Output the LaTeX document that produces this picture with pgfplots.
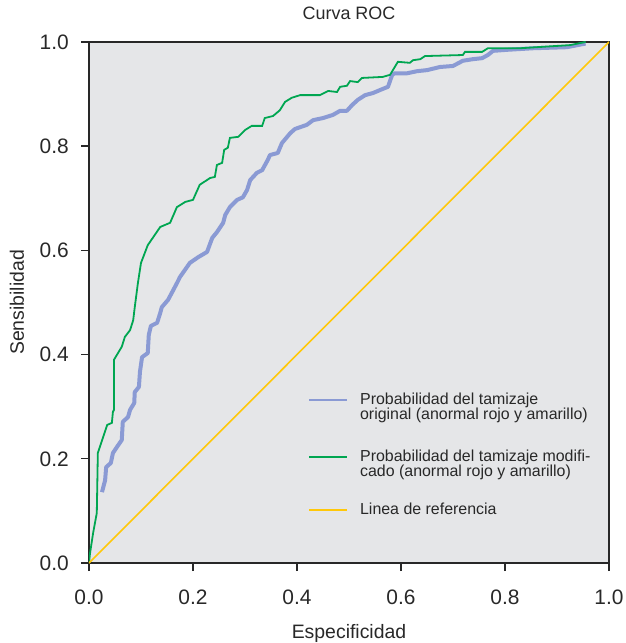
\documentclass[border=0pt]{standalone}
\usepackage{fontspec}
\setmainfont{Liberation Sans}
\usepackage{pgfplots}
\pgfplotsset{compat=1.18}

\definecolor{bgGray}{RGB}{229,230,232}
\definecolor{axGray}{RGB}{40,40,40}
\definecolor{rocBlue}{RGB}{138,154,212}
\definecolor{rocGreen}{RGB}{0,166,81}
\definecolor{rocYellow}{RGB}{255,200,10}

\begin{document}
\begin{tikzpicture}
\begin{axis}[
    scale only axis,
    width=520bp, height=521bp,
    xmin=0, xmax=1, ymin=0, ymax=1,
    axis background/.style={fill=bgGray},
    axis line style={axGray, line width=1.6bp},
    every tick/.style={axGray, line width=1.4bp},
    tick align=outside,
    major tick length=8bp,
    xtick={0,0.2,...,1.0}, ytick={0,0.2,...,1.0},
    xtick pos=bottom, ytick pos=left,
    /pgf/number format/assume math mode=true,
    /pgf/number format/.cd, fixed, fixed zerofill, precision=1, /pgfplots/.cd,
    ticklabel style={font=\fontsize{21}{24}\selectfont, text=axGray},
    yticklabel style={inner sep=0pt, xshift=-12bp},
    xticklabel style={inner sep=0pt, yshift=-19bp},
    title={Curva ROC},
    title style={at={(axis description cs:0.5,1.0326)}, anchor=base,
        font=\fontsize{18}{21}\selectfont, text=axGray, inner sep=0pt},
    xlabel={Especificidad},
    xlabel style={at={(axis description cs:0.5,-0.144)}, anchor=base,
        font=\fontsize{19.5}{22}\selectfont, text=axGray, inner sep=0pt},
    ylabel={Sensibilidad},
    ylabel style={at={(axis description cs:-0.1250,0.5)}, anchor=base,
        font=\fontsize{19.5}{22}\selectfont, text=axGray, inner sep=0pt},
    legend image code/.code={\draw[#1] (0bp,0bp) -- (38bp,0bp);},
    legend image post style={line width=2.2bp},
    legend style={at={(axis cs:0.421,0.327)}, anchor=north west,
        draw=none, fill=none, inner sep=0pt, outer sep=0pt,
        column sep=12bp, row sep=0pt,
        font=\fontsize{16}{15}\selectfont, text=axGray,
        nodes={inner sep=0pt, text height=11.5bp, text depth=3.5bp}},
    legend cell align=left,
]

% curva del tamizaje original
\addplot[rocBlue, line width=4bp, line join=round] coordinates {
(0.025,0.136)(0.031,0.159)(0.033,0.184)(0.042,0.192)(0.046,0.211)(0.054,0.223)
(0.063,0.236)(0.065,0.271)(0.075,0.280)(0.079,0.294)(0.087,0.307)(0.088,0.328)
(0.096,0.338)(0.098,0.367)(0.102,0.395)(0.113,0.403)(0.115,0.438)(0.119,0.455)
(0.131,0.461)(0.137,0.480)(0.140,0.491)(0.152,0.505)(0.160,0.520)(0.169,0.537)
(0.175,0.549)(0.194,0.576)(0.210,0.587)(0.227,0.597)(0.237,0.624)(0.246,0.635)
(0.258,0.653)(0.262,0.668)(0.271,0.683)(0.285,0.697)(0.296,0.702)(0.304,0.716)
(0.310,0.735)(0.323,0.749)(0.333,0.754)(0.344,0.774)(0.348,0.783)(0.363,0.787)
(0.371,0.806)(0.387,0.825)(0.396,0.833)(0.419,0.841)(0.431,0.850)(0.450,0.854)
(0.469,0.860)(0.483,0.868)(0.496,0.868)(0.506,0.879)(0.517,0.889)(0.531,0.898)
(0.546,0.902)(0.565,0.910)(0.575,0.914)(0.583,0.937)(0.588,0.940)(0.612,0.940)
(0.631,0.944)(0.650,0.946)(0.675,0.952)(0.700,0.954)(0.719,0.964)(0.738,0.967)
(0.756,0.969)(0.767,0.975)(0.777,0.983)(0.804,0.985)(0.854,0.988)(0.919,0.990)
(0.955,0.997)
};
\addlegendentry{Probabilidad del tamizaje}
\addlegendimage{empty legend}
\addlegendentry{original (anormal rojo y amarillo)}
\addlegendimage{empty legend}
\addlegendentry[text height=23.5bp]{}

% curva del tamizaje modificado
\addplot[rocGreen, line width=1.8bp] coordinates {
(0,0)(0.002,0.019)(0.008,0.058)(0.015,0.096)(0.017,0.211)(0.035,0.265)
(0.044,0.269)(0.046,0.290)(0.048,0.294)(0.048,0.390)(0.063,0.415)(0.069,0.434)
(0.079,0.447)(0.085,0.466)(0.088,0.491)(0.094,0.537)(0.100,0.576)(0.113,0.610)
(0.137,0.645)(0.156,0.653)(0.169,0.683)(0.185,0.693)(0.200,0.697)(0.204,0.706)
(0.213,0.726)(0.233,0.739)(0.242,0.741)(0.246,0.764)(0.256,0.768)(0.260,0.793)
(0.267,0.797)(0.271,0.816)(0.287,0.818)(0.300,0.831)(0.313,0.839)(0.333,0.839)
(0.338,0.854)(0.354,0.858)(0.367,0.869)(0.377,0.885)(0.390,0.893)(0.406,0.898)
(0.444,0.898)(0.460,0.906)(0.477,0.904)(0.483,0.914)(0.496,0.916)(0.502,0.925)
(0.517,0.923)(0.525,0.931)(0.565,0.933)(0.579,0.937)(0.594,0.962)(0.617,0.960)
(0.623,0.965)(0.637,0.967)(0.646,0.973)(0.719,0.975)(0.723,0.981)(0.756,0.981)
(0.767,0.988)(0.829,0.988)(0.892,0.992)(0.925,0.994)(0.955,1.0)
};
\addlegendentry{Probabilidad del tamizaje modifi-}
\addlegendimage{empty legend}
\addlegendentry{cado (anormal rojo y amarillo)}
\addlegendimage{empty legend}
\addlegendentry[text height=19.5bp]{}

% linea de referencia
\addplot[rocYellow, line width=1.6bp] coordinates {(0,0)(1,1)};
\addlegendentry{Linea de referencia}
\end{axis}
\pgfresetboundingbox
\path ([shift={(-89bp,-80bp)}]current axis.south west) rectangle ([shift={(17bp,42bp)}]current axis.north east);
\end{tikzpicture}
\end{document}
